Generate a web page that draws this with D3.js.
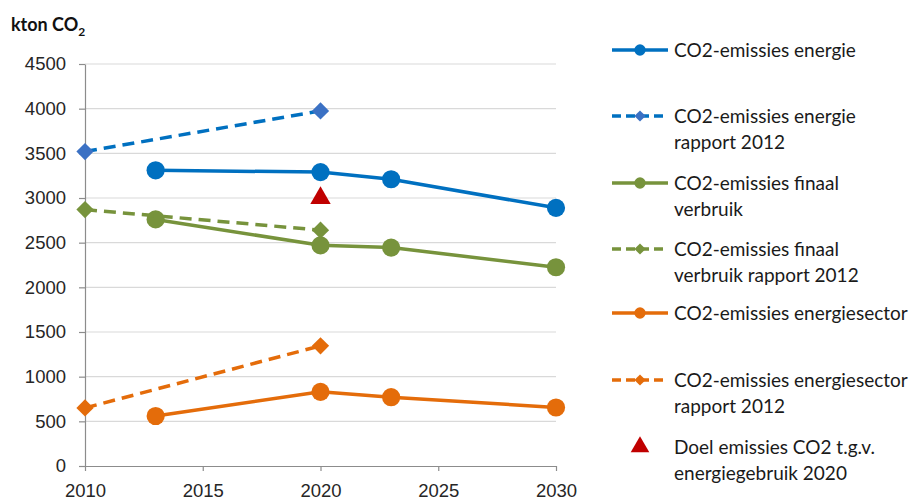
<!DOCTYPE html>
<html>
<head>
<meta charset="utf-8">
<script src="https://cdn.jsdelivr.net/npm/d3@7"></script>
<style>
  body { margin: 0; background: #fff; }
  svg { font-family: Lato, "Open Sans", sans-serif; }
</style>
</head>
<body>
<div id="container"></div>
<script>
// data
const yearsMain = [2013, 2020, 2023, 2030];
const yearsRapport = [2010, 2020];
const energie = [3310, 3290, 3210, 2890];
const energieRapport = [3520, 3975];
const finaal = [2760, 2470, 2445, 2225];
const finaalRapport = [2870, 2640];
const sector = [560, 830, 770, 655];
const sectorRapport = [650, 1345];
const doelYears = [2020];
const doel = [3000];

const xTicks = [2010, 2015, 2020, 2025, 2030];
const yTicks = [0, 500, 1000, 1500, 2000, 2500, 3000, 3500, 4000, 4500];

const legendLabels = [
  ["CO2-emissies energie"],
  ["CO2-emissies energie", "rapport 2012"],
  ["CO2-emissies finaal", "verbruik"],
  ["CO2-emissies finaal", "verbruik rapport 2012"],
  ["CO2-emissies energiesector"],
  ["CO2-emissies energiesector", "rapport 2012"],
  ["Doel emissies CO2 t.g.v.", "energiegebruik 2020"]
];

const blue = '#0070c0', blueD = '#3b71c4';
const green = '#77933c';
const orange = '#e46c0a';
const red = '#c00000';

const series = [
  { years: yearsMain, vals: energie, color: blue, mcolor: blue, dash: null, marker: 'circle' },
  { years: yearsRapport, vals: energieRapport, color: blue, mcolor: blueD, dash: '12,7', marker: 'diamond' },
  { years: yearsMain, vals: finaal, color: green, mcolor: green, dash: null, marker: 'circle' },
  { years: yearsRapport, vals: finaalRapport, color: green, mcolor: green, dash: '12,7', marker: 'diamond' },
  { years: yearsMain, vals: sector, color: orange, mcolor: orange, dash: null, marker: 'circle' },
  { years: yearsRapport, vals: sectorRapport, color: orange, mcolor: orange, dash: '12,7', marker: 'diamond' },
  { years: doelYears, vals: doel, color: null, mcolor: red, dash: null, marker: 'triangle' }
];

const w = 921, h = 502;
const svg = d3.select('#container').append('svg').attr('width', w).attr('height', h);

const x = d3.scaleLinear().domain([2010, 2030]).range([85, 556]);
const y = d3.scaleLinear().domain([0, 4500]).range([466, 64]);

// gridlines
svg.append('g').selectAll('line')
  .data(yTicks.filter(d => d > 0))
  .enter().append('line')
  .attr('x1', x(2010)).attr('x2', x(2030))
  .attr('y1', d => y(d)).attr('y2', d => y(d))
  .attr('stroke', '#d9d9d9').attr('stroke-width', 1.2);

const axisY = d3.axisLeft(y).tickValues(yTicks).tickFormat(d3.format('d')).tickSize(6).tickSizeOuter(0).tickPadding(13);
const gy = svg.append('g').attr('transform', `translate(${x(2010)},0)`).call(axisY);

const axisX = d3.axisBottom(x).tickValues(xTicks).tickFormat(d3.format('d')).tickSize(5).tickSizeOuter(0).tickPadding(13);
const gx = svg.append('g').attr('transform', `translate(0,${y(0)})`).call(axisX);

[gx, gy].forEach(g => {
  g.selectAll('path, line').attr('stroke', '#8c8c8c').attr('stroke-width', 1.2);
  g.selectAll('text').attr('font-size', 18.5).attr('fill', '#262626');
});

// title
const title = svg.append('text').attr('x', 11).attr('y', 31)
  .attr('font-size', 18).attr('font-weight', 'bold').attr('fill', '#111');
title.append('tspan').text('kton CO');
title.append('tspan').attr('font-size', 12).attr('dy', 5).text('2');

const symDiamond = d3.symbol().type(d3.symbolDiamond2).size(190);
const symCircle = d3.symbol().type(d3.symbolCircle).size(260);
const symTri = d3.symbol().type(d3.symbolTriangle).size(180);
const symFor = m => m === 'circle' ? symCircle : m === 'diamond' ? symDiamond : symTri;

const line = d3.line().x(d => x(d[0])).y(d => y(d[1]));

series.forEach(s => {
  const pts = s.years.map((yr, i) => [yr, s.vals[i]]);
  if (s.color) {
    svg.append('path').datum(pts)
      .attr('d', line)
      .attr('fill', 'none')
      .attr('stroke', s.color)
      .attr('stroke-width', 3.5)
      .attr('stroke-dasharray', s.dash);
  }
  svg.append('g').selectAll('path')
    .data(pts).enter().append('path')
    .attr('transform', d => `translate(${x(d[0])},${y(d[1])})`)
    .attr('d', symFor(s.marker))
    .attr('fill', s.mcolor);
});

// legend
const legendY = [50, 116, 183, 249, 313, 380, 447];
const leg = svg.append('g');
series.forEach((s, i) => {
  const g = leg.append('g').attr('transform', `translate(0,${legendY[i]})`);
  if (s.color) {
    g.append('line').attr('x1', 612).attr('x2', 668).attr('y1', 0).attr('y2', 0)
      .attr('stroke', s.color).attr('stroke-width', 3.5)
      .attr('stroke-dasharray', s.dash ? '9,5' : null);
  }
  const sym = s.marker === 'circle' ? d3.symbol().type(d3.symbolCircle).size(100)
    : s.marker === 'diamond' ? d3.symbol().type(d3.symbolDiamond2).size(80)
    : d3.symbol().type(d3.symbolTriangle).size(150);
  g.append('path').attr('transform', 'translate(640,0)').attr('d', sym).attr('fill', s.mcolor);
  const t = g.append('text').attr('x', 674).attr('y', 7).attr('font-size', 19).attr('fill', '#1a1a1a');
  legendLabels[i].forEach((ln, j) => {
    t.append('tspan').attr('x', 674).attr('dy', j === 0 ? 0 : 26).text(ln);
  });
});
</script>
</body>
</html>
